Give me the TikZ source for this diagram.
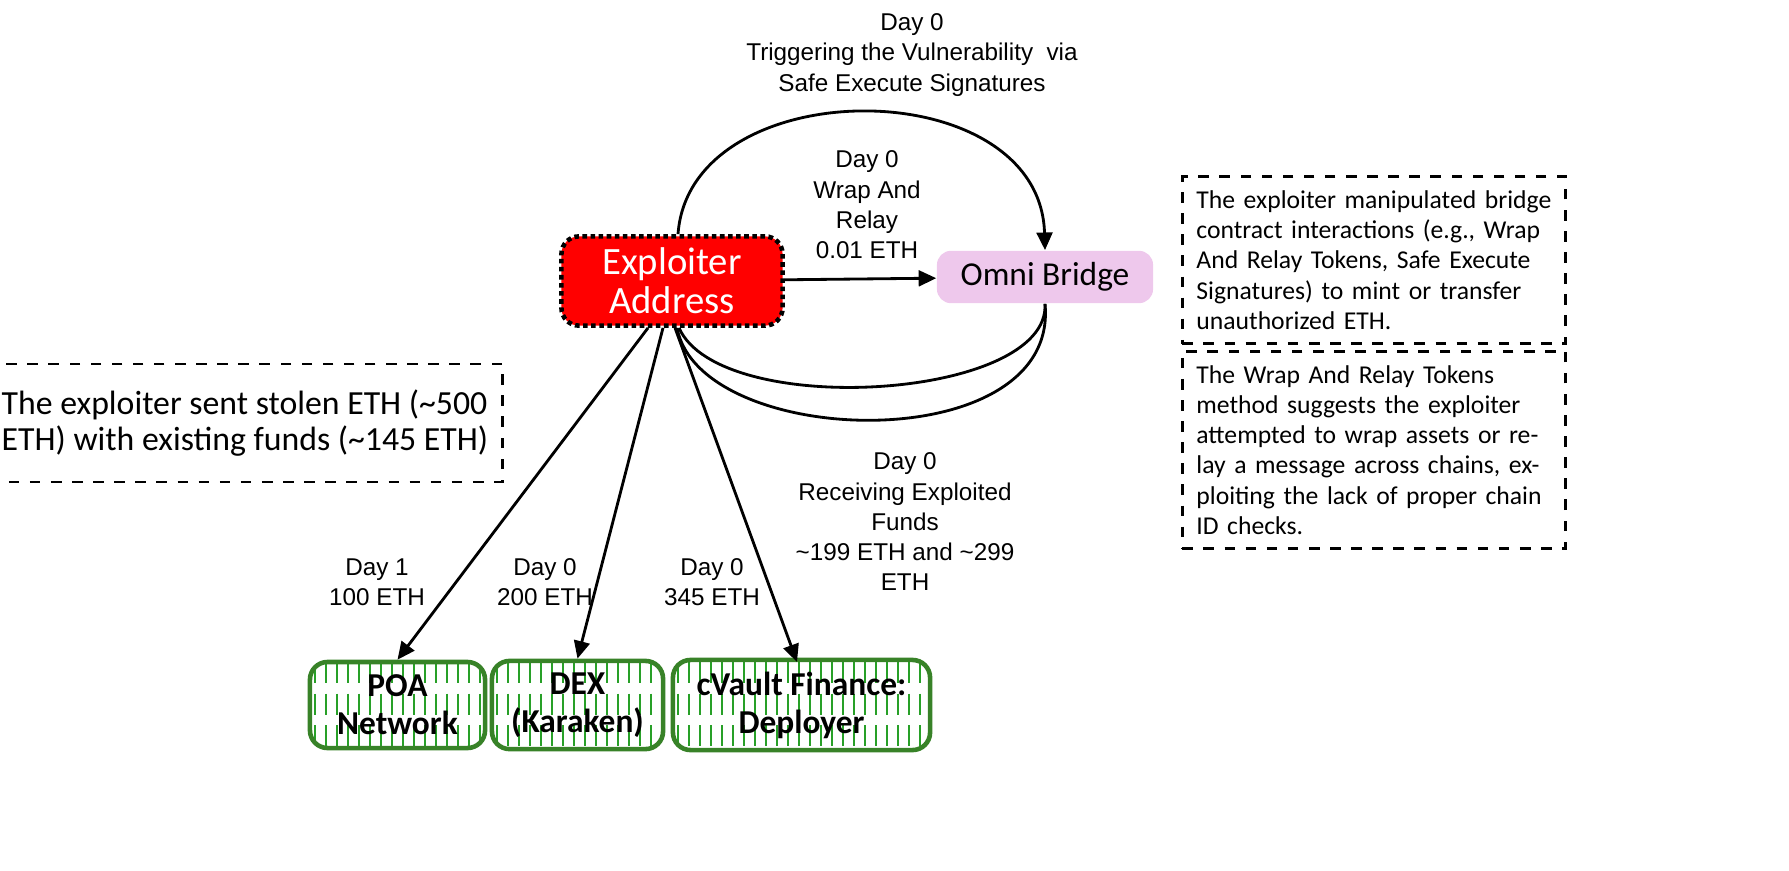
\documentclass[tikz,border=0pt]{standalone}
\usepackage{fontspec}
\setmainfont{Carlito}
\newfontfamily\lblfont{Liberation Sans}
\usetikzlibrary{arrows.meta}
\definecolor{exred}{RGB}{255,0,0}
\definecolor{bridgepink}{RGB}{238,200,236}
\definecolor{hatchgreen}{RGB}{40,160,40}
\definecolor{boxgreen}{RGB}{56,130,40}
\begin{document}
\begin{tikzpicture}
    [x=0.01cm, y=-0.01cm, >={Triangle[length=5pt,width=4.5pt]},
    exploiter/.style={draw=black, densely dotted, line width=1.3pt, fill=exred, rounded corners=5pt,
        minimum width=2.21cm, minimum height=0.83cm, text=white, align=center, font=\fontsize{11}{11}\selectfont},
    bridge/.style={fill=bridgepink, rounded corners=4pt, minimum width=2.16cm, minimum height=0.52cm,
        font=\fontsize{9.5}{10}\selectfont},
    target/.style={draw=boxgreen, line width=1.3pt, rounded corners=5pt, minimum height=0.86cm,
        align=center, font=\bfseries\fontsize{9.5}{10.8}\selectfont},
    note/.style={draw, dashed, thick, align=left, inner sep=4pt},
    lbl/.style={align=center, font=\lblfont\fontsize{6.9}{8.6}\selectfont},
    flow/.style={thick, black}]

    \useasboundingbox (0,0) rectangle (1789,870);

    % main nodes
    \node[exploiter] (ex) at (672,281) {Exploiter\\Address};
    \node[bridge] (br) at (1045,277) {Omni Bridge};

    % receiving addresses, hatched in green
    \foreach \xa/\xb in {310/485, 492/663, 673/930} {
        \begin{scope}
            \clip[rounded corners=5pt] (\xa,662) rectangle (\xb,748);
            \foreach \hx in {5,16,...,260}
                \draw[hatchgreen, dash pattern=on 6pt off 3pt, line width=0.6pt] (\xa+\hx,662) -- (\xa+\hx,748);
        \end{scope}
    }
    \node[target, minimum width=1.75cm] (poa) at (397.5,705) {POA\\Network};
    \node[target, minimum width=1.71cm] (dex) at (577.5,705) {DEX\\(Karaken)};
    \node[target, minimum width=2.57cm] (cv) at (801.5,705) {cVault Finance:\\Deployer};

    % notes
    \node[note, minimum width=4.8cm, minimum height=1.18cm, font=\fontsize{9.6}{10.2}\selectfont] (leftnote) at (245,423)
        {The exploiter sent stolen ETH (\textasciitilde500\\ETH) with existing funds (\textasciitilde145 ETH)};
    \node[note, text width=3.55cm, minimum height=1.66cm, font=\fontsize{7.3}{8.6}\selectfont] (topnote) at (1374,260)
        {The exploiter manipulated bridge contract interactions (e.g., Wrap And Relay Tokens, Safe Execute Signatures) to mint or transfer unauthorized ETH.};
    \node[note, text width=3.55cm, minimum height=1.96cm, font=\fontsize{7.3}{8.6}\selectfont] (botnote) at (1374,450)
        {The Wrap And Relay Tokens method suggests the exploiter attempted to wrap assets or relay a message across chains, exploiting the lack of proper chain ID checks.};

    % flows
    \draw[flow, ->] ([xshift=0.06cm]ex.north) .. controls (690,70) and (1040,70) .. (br.north);
    \draw[flow, ->] (ex) -- (br);
    \draw[flow] (br.south) .. controls (1050,400) and (720,420) .. ([xshift=0.07cm]ex.south);
    \draw[flow] (br.south) .. controls (1060,460) and (700,450) .. ([xshift=0.05cm]ex.south);
    \draw[flow, ->] ([xshift=-0.24cm]ex.south) -- (poa.north);
    \draw[flow, ->] ([xshift=-0.09cm]ex.south) -- (dex.north);
    \draw[flow, ->] ([xshift=0.03cm]ex.south) -- (797,662);

    % labels
    \node[lbl] (toplbl) at (912,55) {Day 0\\Triggering the Vulnerability\ \ via\\Safe Execute Signatures};
    \node[lbl] (wraplbl) at (867,205) {Day 0\\Wrap And\\Relay\\0.01 ETH};
    \node[lbl] (recvlbl) at (905,522) {Day 0\\Receiving Exploited\\Funds\\\textasciitilde199 ETH and \textasciitilde299\\ETH};
    \node[lbl] (poalbl) at (377,582) {Day 1\\100 ETH};
    \node[lbl] (dexlbl) at (545,582) {Day 0\\200 ETH};
    \node[lbl] (cvlbl) at (712,582) {Day 0\\345 ETH};

\end{tikzpicture}
\end{document}
